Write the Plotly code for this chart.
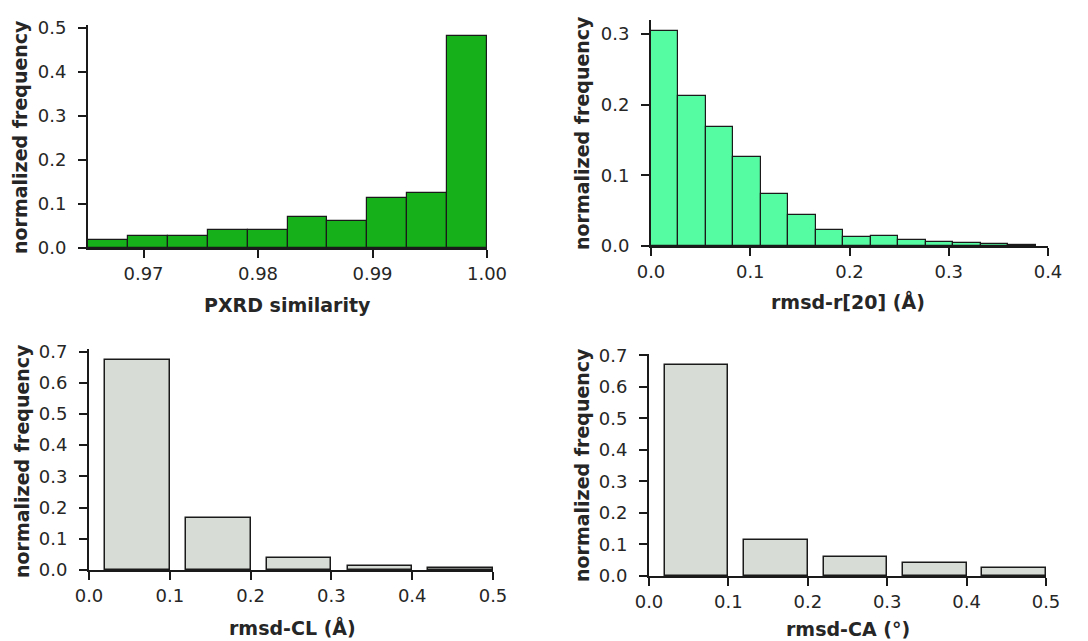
import numpy as np
import plotly.graph_objects as go

# ---------------- data ----------------
# Panel 1: PXRD similarity histogram (10 bins)
pxrd_lo, pxrd_hi, pxrd_nbins = 0.96515, 1.0, 10
pxrd_freq = [0.019, 0.0265, 0.028, 0.042, 0.041, 0.070, 0.062, 0.114, 0.124, 0.483]

# Panel 2: rmsd-r[20] histogram (14 bins)
r20_lo, r20_binw = 0.0, 0.0277
r20_freq = [0.3047, 0.2118, 0.1689, 0.1264, 0.0736, 0.0439, 0.0226, 0.0132,
            0.0137, 0.0085, 0.0052, 0.0038, 0.0028, 0.0020]

# Panel 3: rmsd-CL bars
cl_left = [0.02, 0.12, 0.22, 0.32, 0.42]
cl_freq = [0.6744, 0.1657, 0.0395, 0.0128, 0.0053]

# Panel 4: rmsd-CA bars
ca_left = [0.02, 0.12, 0.22, 0.32, 0.42]
ca_freq = [0.6705, 0.1140, 0.0612, 0.0412, 0.0253]
bar_w = 0.08

titles_x = ["PXRD similarity", "rmsd-r[20] (Å)", "rmsd-CL (Å)", "rmsd-CA (°)"]
title_y = "normalized frequency"

# ---------------- style ----------------
W, H = 1088, 641
GREEN = "#15b01a"
MINT = "#56fca2"
GREY = "#d8dcd6"
EDGE = "#1a1a1a"
TXT = "#262626"
FONT = "DejaVu Sans"
TICK_SIZE = 18
TITLE_SIZE = 19

def px_dom_x(a, b):
    return [a / W, b / W]

def px_dom_y(top, bottom):
    return [1 - bottom / H, 1 - top / H]

fig = go.Figure()

pxrd_edges = np.linspace(pxrd_lo, pxrd_hi, pxrd_nbins + 1)
pxrd_w = pxrd_edges[1] - pxrd_edges[0]
fig.add_trace(go.Bar(x=pxrd_edges[:-1] + pxrd_w / 2, y=pxrd_freq, width=pxrd_w,
                     marker=dict(color=GREEN, line=dict(color=EDGE, width=1.2)),
                     xaxis="x", yaxis="y", showlegend=False))

r20_left = r20_lo + r20_binw * np.arange(len(r20_freq))
fig.add_trace(go.Bar(x=r20_left + r20_binw / 2, y=r20_freq, width=r20_binw,
                     marker=dict(color=MINT, line=dict(color=EDGE, width=1.2)),
                     xaxis="x2", yaxis="y2", showlegend=False))

fig.add_trace(go.Bar(x=np.array(cl_left) + bar_w / 2, y=cl_freq, width=bar_w,
                     marker=dict(color=GREY, line=dict(color=EDGE, width=1.5)),
                     xaxis="x3", yaxis="y3", showlegend=False))

fig.add_trace(go.Bar(x=np.array(ca_left) + bar_w / 2, y=ca_freq, width=bar_w,
                     marker=dict(color=GREY, line=dict(color=EDGE, width=1.5)),
                     xaxis="x4", yaxis="y4", showlegend=False))

axcommon = dict(showline=True, linecolor=EDGE, linewidth=2, ticks="outside",
                ticklen=8, tickwidth=2, tickcolor=EDGE, showgrid=False, zeroline=False,
                automargin=False, layer="above traces",
                tickfont=dict(family=FONT, size=TICK_SIZE, color=TXT, weight="normal"))

panels = [
    (px_dom_x(88, 487), px_dom_y(25, 248), [pxrd_lo, pxrd_hi], [0, max(pxrd_freq) * 1.05],
     [0.97, 0.98, 0.99, 1.00], ["0.97", "0.98", "0.99", "1.00"], 0.1),
    (px_dom_x(651, 1048), px_dom_y(20, 246), [0, 0.4], [0, max(r20_freq) * 1.05],
     [0, 0.1, 0.2, 0.3, 0.4], ["0.0", "0.1", "0.2", "0.3", "0.4"], 0.1),
    (px_dom_x(89, 493), px_dom_y(349, 570), [0, 0.5], [0, max(cl_freq) * 1.05],
     [0, 0.1, 0.2, 0.3, 0.4, 0.5], ["0.0", "0.1", "0.2", "0.3", "0.4", "0.5"], 0.1),
    (px_dom_x(649, 1046), px_dom_y(354, 576), [0, 0.5], [0, max(ca_freq) * 1.05],
     [0, 0.1, 0.2, 0.3, 0.4, 0.5], ["0.0", "0.1", "0.2", "0.3", "0.4", "0.5"], 0.1),
]

layout = dict(width=W, height=H, margin=dict(l=0, r=0, t=0, b=0), template="none",
              paper_bgcolor="white", plot_bgcolor="white", bargap=0)

for i, (xd, yd, xr, yr, xt, xtl, ydt) in enumerate(panels):
    sx = "" if i == 0 else str(i + 1)
    layout["xaxis" + sx] = dict(axcommon, domain=xd, range=xr, tickvals=xt, ticktext=xtl,
                                anchor="y" + sx, ticklabelstandoff=0)
    layout["yaxis" + sx] = dict(axcommon, domain=yd, range=yr, dtick=ydt, tick0=0,
                                tickformat=".1f", anchor="x" + sx, ticklabelstandoff=8)

fig.update_layout(**layout)

# axis titles as annotations (pixel positions)
xt_pos = [(287, 305), (848, 301), (292, 627), (848, 629)]
yt_pos = [(20, 137), (582, 133), (22, 461), (582, 465)]
for (cx, cy), t in zip(xt_pos, titles_x):
    fig.add_annotation(x=cx / W, y=1 - cy / H, xref="paper", yref="paper", text="<b>" + t + "</b>",
                       showarrow=False, xanchor="center", yanchor="middle",
                       font=dict(family=FONT, size=TITLE_SIZE, color=TXT))
for (cx, cy) in yt_pos:
    fig.add_annotation(x=cx / W, y=1 - cy / H, xref="paper", yref="paper", text="<b>" + title_y + "</b>",
                       showarrow=False, xanchor="center", yanchor="middle", textangle=-90,
                       font=dict(family=FONT, size=TITLE_SIZE, color=TXT))

fig.write_html("out.html")
